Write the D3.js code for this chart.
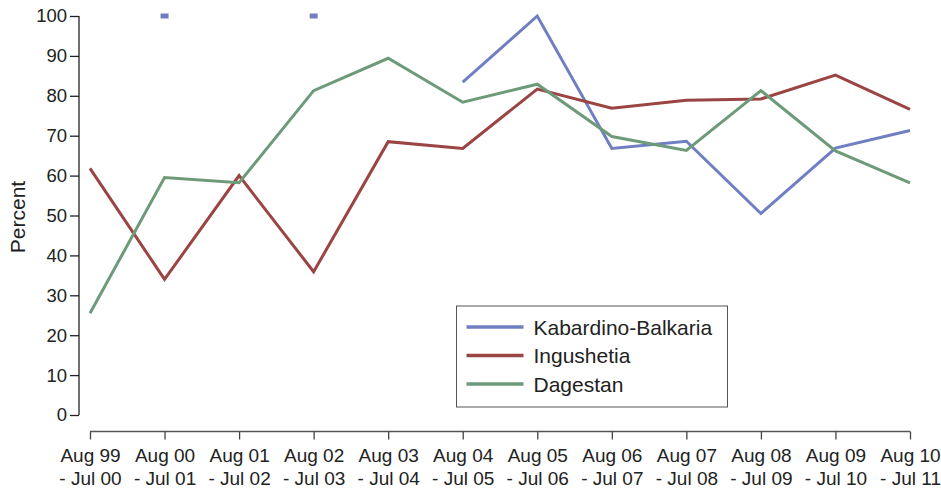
<!DOCTYPE html>
<html>
<head>
<meta charset="utf-8">
<script src="https://cdn.jsdelivr.net/npm/d3@7"></script>
<style>
  body { margin: 0; background: #fff; }
  text { font-family: "Liberation Sans", Arial, sans-serif; fill: #222; }
</style>
</head>
<body>
<div id="chart"></div>
<script>
// periods (two-line tick labels)
var periods = ["Aug 99|- Jul 00", "Aug 00|- Jul 01", "Aug 01|- Jul 02", "Aug 02|- Jul 03",
  "Aug 03|- Jul 04", "Aug 04|- Jul 05", "Aug 05|- Jul 06", "Aug 06|- Jul 07",
  "Aug 07|- Jul 08", "Aug 08|- Jul 09", "Aug 09|- Jul 10", "Aug 10|- Jul 11"];

var seriesNames = ["Kabardino-Balkaria", "Ingushetia", "Dagestan"];
var seriesColors = ["#6f7fc2", "#9b4444", "#6d9a78"];

var kabardino = [null, 100, null, 100, null, 83.4, 100, 66.8, 68.6, 50.5, 66.9, 71.3];
var ingushetia = [61.8, 34.0, 60.0, 35.9, 68.5, 66.8, 81.7, 76.9, 78.9, 79.2, 85.2, 76.6];
var dagestan = [25.5, 59.5, 58.2, 81.3, 89.4, 78.4, 82.9, 69.8, 66.3, 81.3, 66.2, 58.2];

var yTicks = [0, 10, 20, 30, 40, 50, 60, 70, 80, 90, 100];

var allSeries = [kabardino, ingushetia, dagestan];

var svgWidth = 941, svgHeight = 488;

var svg = d3.select("#chart").append("svg")
  .attr("width", svgWidth)
  .attr("height", svgHeight);

var x = d3.scalePoint()
  .domain(periods)
  .range([90, 910]);

var y = d3.scaleLinear()
  .domain([0, 100])
  .range([415, 16]);

// y axis
var yAxis = svg.append("g")
  .attr("transform", "translate(79,0)")
  .call(d3.axisLeft(y).tickValues(yTicks).tickSize(9).tickPadding(3));
yAxis.select(".domain").attr("stroke", "#222").attr("stroke-width", 1.3).attr("d", "M0,16V415");
yAxis.selectAll(".tick line").attr("stroke", "#222").attr("stroke-width", 1.3);
yAxis.selectAll(".tick text").attr("font-size", "18.5px").attr("font-family", "Liberation Sans, Arial, sans-serif").attr("fill", "#222");

// x axis
var xAxis = svg.append("g")
  .attr("transform", "translate(0,431.5)")
  .call(d3.axisBottom(x).tickSize(8).tickFormat(""));
xAxis.select(".domain").attr("stroke", "#555").attr("stroke-width", 1.3).attr("d", "M90,0H910");
xAxis.selectAll(".tick line").attr("stroke", "#444").attr("stroke-width", 1.3);

xAxis.selectAll(".tick")
  .append("text")
  .attr("text-anchor", "middle")
  .attr("font-size", "19px")
  .attr("fill", "#222")
  .selectAll("tspan")
  .data(function(d) { return d.split("|"); })
  .enter()
  .append("tspan")
  .attr("x", 0)
  .attr("y", function(d, i) { return 30.5 + i * 23; })
  .text(function(d) { return d; });

// y label
svg.append("text")
  .attr("transform", "translate(25,217) rotate(-90)")
  .attr("text-anchor", "middle")
  .attr("font-size", "21px")
  .text("Percent");

// lines
var line = d3.line()
  .defined(function(d) { return d != null; })
  .x(function(d, i) { return x(periods[i]); })
  .y(function(d) { return y(d); });

allSeries.forEach(function(vals, s) {
  svg.append("path")
    .datum(vals)
    .attr("fill", "none")
    .attr("stroke", seriesColors[s])
    .attr("stroke-width", 3)
    .attr("d", line);

  // isolated points (no neighbours) drawn as short dashes
  var lone = vals.map(function(v, i) { return { v: v, i: i }; })
    .filter(function(p) {
      return p.v != null && (p.i === 0 || vals[p.i - 1] == null) && (p.i === vals.length - 1 || vals[p.i + 1] == null);
    });
  svg.selectAll(null).data(lone).enter().append("rect")
    .attr("x", function(p) { return x(periods[p.i]) - 4; })
    .attr("y", function(p) { return y(p.v) - 2.5; })
    .attr("width", 8)
    .attr("height", 5)
    .attr("fill", seriesColors[s]);
});

// legend
var legend = svg.append("g").attr("transform", "translate(456.5,306)");
legend.append("rect")
  .attr("width", 271)
  .attr("height", 101)
  .attr("fill", "#fff")
  .attr("stroke", "#555")
  .attr("stroke-width", 1);

var items = legend.selectAll("g.item").data(seriesNames).enter().append("g")
  .attr("transform", function(d, i) { return "translate(0," + (21 + i * 28.5) + ")"; });
items.append("line")
  .attr("x1", 10).attr("x2", 67)
  .attr("stroke", function(d, i) { return seriesColors[i]; })
  .attr("stroke-width", 3.5);
items.append("text")
  .attr("x", 77)
  .attr("dy", "0.36em")
  .attr("font-size", "21px")
  .text(function(d) { return d; });
</script>
</body>
</html>
